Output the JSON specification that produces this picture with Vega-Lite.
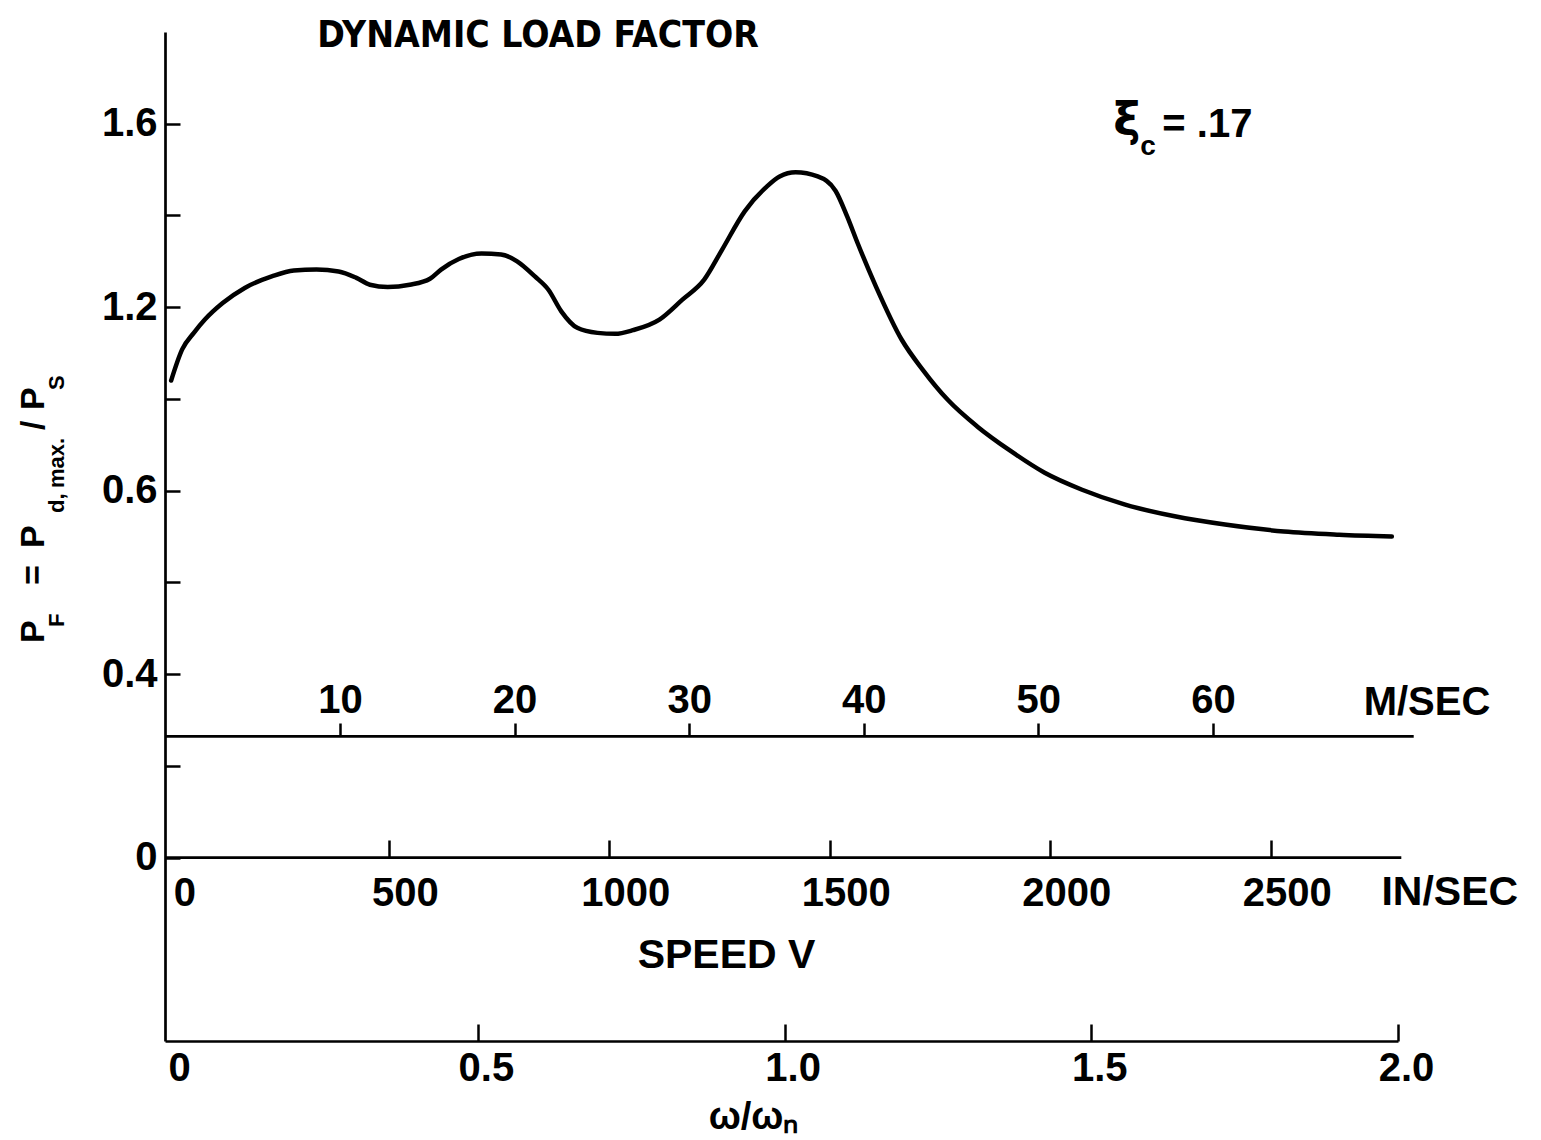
{
  "$schema": "https://vega.github.io/schema/vega-lite/v6.json",
  "width": 1233,
  "height": 1009,
  "autosize": {"type": "none"},
  "padding": {"left": 165, "top": 32, "right": 143, "bottom": 99},
  "background": "white",
  "config": {"view": {"stroke": null}},
  "layer": [
    {
      "data": {"values": [
        {"w": 0, "pf": 1.04},
        {"w": 0.018, "pf": 1.108},
        {"w": 0.037, "pf": 1.144},
        {"w": 0.055, "pf": 1.173},
        {"w": 0.084, "pf": 1.209},
        {"w": 0.12, "pf": 1.242},
        {"w": 0.164, "pf": 1.267},
        {"w": 0.2, "pf": 1.28},
        {"w": 0.237, "pf": 1.282},
        {"w": 0.273, "pf": 1.278},
        {"w": 0.302, "pf": 1.264},
        {"w": 0.324, "pf": 1.249},
        {"w": 0.353, "pf": 1.244},
        {"w": 0.389, "pf": 1.249},
        {"w": 0.422, "pf": 1.262},
        {"w": 0.44, "pf": 1.282},
        {"w": 0.469, "pf": 1.305},
        {"w": 0.506, "pf": 1.317},
        {"w": 0.538, "pf": 1.315},
        {"w": 0.564, "pf": 1.3},
        {"w": 0.593, "pf": 1.267},
        {"w": 0.615, "pf": 1.238},
        {"w": 0.636, "pf": 1.191},
        {"w": 0.662, "pf": 1.155},
        {"w": 0.695, "pf": 1.144},
        {"w": 0.724, "pf": 1.142},
        {"w": 0.753, "pf": 1.15},
        {"w": 0.796, "pf": 1.173},
        {"w": 0.833, "pf": 1.216},
        {"w": 0.869, "pf": 1.26},
        {"w": 0.898, "pf": 1.325},
        {"w": 0.935, "pf": 1.409},
        {"w": 0.971, "pf": 1.463},
        {"w": 0.992, "pf": 1.485},
        {"w": 1.018, "pf": 1.494},
        {"w": 1.054, "pf": 1.485},
        {"w": 1.083, "pf": 1.454},
        {"w": 1.102, "pf": 1.398},
        {"w": 1.119, "pf": 1.34},
        {"w": 1.149, "pf": 1.245},
        {"w": 1.191, "pf": 1.129},
        {"w": 1.225, "pf": 1.064},
        {"w": 1.266, "pf": 0.998},
        {"w": 1.314, "pf": 0.94},
        {"w": 1.369, "pf": 0.886},
        {"w": 1.424, "pf": 0.839},
        {"w": 1.485, "pf": 0.802},
        {"w": 1.554, "pf": 0.77},
        {"w": 1.636, "pf": 0.744},
        {"w": 1.718, "pf": 0.726},
        {"w": 1.814, "pf": 0.711},
        {"w": 1.904, "pf": 0.704},
        {"w": 1.99, "pf": 0.7}
      ]},
      "mark": {"type": "line", "color": "black", "strokeWidth": 4.5, "interpolate": "monotone", "strokeCap": "round"},
      "encoding": {
        "x": {
          "field": "w", "type": "quantitative",
          "scale": {"domain": [-0.01, 2]},
          "axis": {
            "orient": "bottom",
            "values": [0, 0.5, 1, 1.5, 2],
            "labelExpr": "datum.value == 0 ? '0' : format(datum.value, '.1f')",
            "grid": false,
            "domainColor": "black", "domainWidth": 2.7,
            "tickColor": "black", "tickWidth": 2.5, "tickSize": -17,
            "tickOpacity": {"condition": {"test": "datum.value == 0", "value": 0}, "value": 1},
            "labelFont": "Liberation Sans", "labelFontSize": 40, "labelFontWeight": "bold", "labelColor": "black",
            "labelBaseline": "top", "labelPadding": 24, "labelOffset": 8,
            "labelFlush": false, "labelOverlap": false, "labelBound": false,
            "title": "ω/ωₙ",
            "titleFont": "Liberation Sans", "titleFontSize": 38, "titleFontWeight": "bold", "titleColor": "black",
            "titleX": 588, "titleY": 87, "titleBaseline": "alphabetic", "titleAlign": "center"
          }
        },
        "y": {
          "field": "pf", "type": "quantitative",
          "scale": {"domain": [-0.4, 1.8]},
          "axis": {
            "orient": "left",
            "values": [0, 0.2, 0.4, 0.6, 0.8, 1, 1.2, 1.4, 1.6],
            "labelExpr": "datum.value == 0 ? '0' : datum.value == 0.4 ? '0.4' : datum.value == 0.8 ? '0.6' : datum.value == 1.2 ? '1.2' : datum.value == 1.6 ? '1.6' : ''",
            "grid": false,
            "domainColor": "black", "domainWidth": 2.7,
            "tickColor": "black", "tickWidth": 2.5, "tickSize": -15,
            "labelFont": "Liberation Sans", "labelFontSize": 40, "labelFontWeight": "bold", "labelColor": "black",
            "labelPadding": 23,
            "labelFlush": false, "labelOverlap": false, "labelBound": false,
            "title": null
          }
        }
      }
    },
    {
      "data": {"values": [{"t": "DYNAMIC  LOAD FACTOR"}]},
      "mark": {"type": "text", "font": "DejaVu Sans Condensed", "fontWeight": "bold", "fontSize": 37, "align": "left", "baseline": "alphabetic", "color": "black"},
      "encoding": {
        "x": {"datum": 0.238, "scale": {"domain": [-0.01, 2]}, "axis": null},
        "y": {"datum": 1.767, "scale": {"domain": [-0.4, 1.8]}, "axis": null},
        "text": {"field": "t"}
      }
    },
    {
      "data": {"values": [{"t": "ξ"}]},
      "mark": {"type": "text", "font": "DejaVu Sans", "fontWeight": "bold", "fontSize": 46, "align": "left", "baseline": "alphabetic", "color": "black"},
      "encoding": {
        "x": {"datum": 1.536, "scale": {"domain": [-0.01, 2]}, "axis": null},
        "y": {"datum": 1.575, "scale": {"domain": [-0.4, 1.8]}, "axis": null},
        "text": {"field": "t"}
      }
    },
    {
      "data": {"values": [{"t": "c"}]},
      "mark": {"type": "text", "font": "Liberation Sans", "fontWeight": "bold", "fontSize": 28, "align": "left", "baseline": "alphabetic", "color": "black", "dx": 27, "dy": 20},
      "encoding": {
        "x": {"datum": 1.536, "scale": {"domain": [-0.01, 2]}, "axis": null},
        "y": {"datum": 1.575, "scale": {"domain": [-0.4, 1.8]}, "axis": null},
        "text": {"field": "t"}
      }
    },
    {
      "data": {"values": [{"t": "= .17"}]},
      "mark": {"type": "text", "font": "Liberation Sans", "fontWeight": "bold", "fontSize": 40, "align": "left", "baseline": "alphabetic", "color": "black", "dx": 49, "dy": 2},
      "encoding": {
        "x": {"datum": 1.536, "scale": {"domain": [-0.01, 2]}, "axis": null},
        "y": {"datum": 1.575, "scale": {"domain": [-0.4, 1.8]}, "axis": null},
        "text": {"field": "t"}
      }
    },
    {
      "data": {"values": [{"t": "P"}]},
      "mark": {"type": "text", "font": "Liberation Sans", "fontWeight": "bold", "fontSize": 34, "angle": 270, "align": "left", "baseline": "alphabetic", "color": "black", "dx": 0, "dy": 0},
      "encoding": {
        "x": {"datum": -0.2072, "scale": {"domain": [-0.01, 2]}, "axis": null},
        "y": {"datum": 0.4677, "scale": {"domain": [-0.4, 1.8]}, "axis": null},
        "text": {"field": "t"}
      }
    },
    {
      "data": {"values": [{"t": "F"}]},
      "mark": {"type": "text", "font": "Liberation Sans", "fontWeight": "bold", "fontSize": 22, "angle": 270, "align": "left", "baseline": "alphabetic", "color": "black", "dx": 16, "dy": 20},
      "encoding": {
        "x": {"datum": -0.2072, "scale": {"domain": [-0.01, 2]}, "axis": null},
        "y": {"datum": 0.4677, "scale": {"domain": [-0.4, 1.8]}, "axis": null},
        "text": {"field": "t"}
      }
    },
    {
      "data": {"values": [{"t": "="}]},
      "mark": {"type": "text", "font": "Liberation Sans", "fontWeight": "bold", "fontSize": 34, "angle": 270, "align": "left", "baseline": "alphabetic", "color": "black", "dx": 58, "dy": 0},
      "encoding": {
        "x": {"datum": -0.2072, "scale": {"domain": [-0.01, 2]}, "axis": null},
        "y": {"datum": 0.4677, "scale": {"domain": [-0.4, 1.8]}, "axis": null},
        "text": {"field": "t"}
      }
    },
    {
      "data": {"values": [{"t": "P"}]},
      "mark": {"type": "text", "font": "Liberation Sans", "fontWeight": "bold", "fontSize": 34, "angle": 270, "align": "left", "baseline": "alphabetic", "color": "black", "dx": 95, "dy": 0},
      "encoding": {
        "x": {"datum": -0.2072, "scale": {"domain": [-0.01, 2]}, "axis": null},
        "y": {"datum": 0.4677, "scale": {"domain": [-0.4, 1.8]}, "axis": null},
        "text": {"field": "t"}
      }
    },
    {
      "data": {"values": [{"t": "d,"}]},
      "mark": {"type": "text", "font": "Liberation Sans", "fontWeight": "bold", "fontSize": 22, "angle": 270, "align": "left", "baseline": "alphabetic", "color": "black", "dx": 130, "dy": 20},
      "encoding": {
        "x": {"datum": -0.2072, "scale": {"domain": [-0.01, 2]}, "axis": null},
        "y": {"datum": 0.4677, "scale": {"domain": [-0.4, 1.8]}, "axis": null},
        "text": {"field": "t"}
      }
    },
    {
      "data": {"values": [{"t": "max."}]},
      "mark": {"type": "text", "font": "Liberation Sans", "fontWeight": "bold", "fontSize": 22, "angle": 270, "align": "left", "baseline": "alphabetic", "color": "black", "dx": 155, "dy": 20},
      "encoding": {
        "x": {"datum": -0.2072, "scale": {"domain": [-0.01, 2]}, "axis": null},
        "y": {"datum": 0.4677, "scale": {"domain": [-0.4, 1.8]}, "axis": null},
        "text": {"field": "t"}
      }
    },
    {
      "data": {"values": [{"t": "/"}]},
      "mark": {"type": "text", "font": "Liberation Sans", "fontWeight": "bold", "fontSize": 34, "angle": 270, "align": "left", "baseline": "alphabetic", "color": "black", "dx": 213, "dy": 0},
      "encoding": {
        "x": {"datum": -0.2072, "scale": {"domain": [-0.01, 2]}, "axis": null},
        "y": {"datum": 0.4677, "scale": {"domain": [-0.4, 1.8]}, "axis": null},
        "text": {"field": "t"}
      }
    },
    {
      "data": {"values": [{"t": "P"}]},
      "mark": {"type": "text", "font": "Liberation Sans", "fontWeight": "bold", "fontSize": 34, "angle": 270, "align": "left", "baseline": "alphabetic", "color": "black", "dx": 233, "dy": 0},
      "encoding": {
        "x": {"datum": -0.2072, "scale": {"domain": [-0.01, 2]}, "axis": null},
        "y": {"datum": 0.4677, "scale": {"domain": [-0.4, 1.8]}, "axis": null},
        "text": {"field": "t"}
      }
    },
    {
      "data": {"values": [{"t": "S"}]},
      "mark": {"type": "text", "font": "Liberation Sans", "fontWeight": "bold", "fontSize": 22, "angle": 270, "align": "left", "baseline": "alphabetic", "color": "black", "dx": 253, "dy": 20},
      "encoding": {
        "x": {"datum": -0.2072, "scale": {"domain": [-0.01, 2]}, "axis": null},
        "y": {"datum": 0.4677, "scale": {"domain": [-0.4, 1.8]}, "axis": null},
        "text": {"field": "t"}
      }
    },
    {
      "data": {"values": [{"unit": "M/SEC"}]},
      "mark": {"type": "rule", "color": "black", "strokeWidth": 2.7},
      "encoding": {
        "x": {
          "datum": 0,
          "scale": {"domain": [-0.02, 70.6]},
          "axis": {
            "orient": "top", "offset": -704,
            "values": [10, 20, 30, 40, 50, 60],
            "format": "d",
            "domain": false, "grid": false,
            "tickColor": "black", "tickWidth": 2.5, "tickSize": 13,
            "labelFont": "Liberation Sans", "labelFontSize": 40, "labelFontWeight": "bold", "labelColor": "black",
            "labelPadding": 3,
            "labelFlush": false, "labelOverlap": false, "labelBound": false,
            "title": null
          }
        },
        "x2": {"datum": 71.5},
        "y": {"datum": 0.264, "scale": {"domain": [-0.4, 1.8]}, "axis": null}
      }
    },
    {
      "data": {"values": [{"unit": "M/SEC"}]},
      "mark": {"type": "text", "font": "Liberation Sans", "fontWeight": "bold", "fontSize": 40, "align": "center", "baseline": "alphabetic", "color": "black", "dy": -21},
      "encoding": {
        "x": {"datum": 72.26, "scale": {"domain": [-0.02, 70.6]}, "axis": null},
        "y": {"datum": 0.264, "scale": {"domain": [-0.4, 1.8]}, "axis": null},
        "text": {"field": "unit"}
      }
    },
    {
      "data": {"values": [{"unit": "IN/SEC"}]},
      "mark": {"type": "rule", "color": "black", "strokeWidth": 2.7},
      "encoding": {
        "x": {
          "datum": -7.5,
          "scale": {"domain": [-7.5, 2788.5]},
          "axis": {
            "orient": "bottom", "offset": -183,
            "values": [0, 500, 1000, 1500, 2000, 2500],
            "format": "d",
            "domain": false, "grid": false,
            "tickColor": "black", "tickWidth": 2.5, "tickSize": -18,
            "tickOpacity": {"condition": {"test": "datum.value == 0", "value": 0}, "value": 1},
            "labelFont": "Liberation Sans", "labelFontSize": 40, "labelFontWeight": "bold", "labelColor": "black",
            "labelBaseline": "top", "labelPadding": 33, "labelOffset": 16,
            "labelFlush": false, "labelOverlap": false, "labelBound": false,
            "title": "SPEED V",
            "titleFont": "Liberation Sans", "titleFontSize": 41, "titleFontWeight": "bold", "titleColor": "black",
            "titleX": 561, "titleY": 109, "titleBaseline": "alphabetic", "titleAlign": "center"
          }
        },
        "x2": {"datum": 2796},
        "y": {"datum": 0, "scale": {"domain": [-0.4, 1.8]}, "axis": null}
      }
    },
    {
      "data": {"values": [{"unit": "IN/SEC"}]},
      "mark": {"type": "text", "font": "Liberation Sans", "fontWeight": "bold", "fontSize": 41, "align": "center", "baseline": "alphabetic", "color": "black", "dy": 47},
      "encoding": {
        "x": {"datum": 2906, "scale": {"domain": [-7.5, 2788.5]}, "axis": null},
        "y": {"datum": 0, "scale": {"domain": [-0.4, 1.8]}, "axis": null},
        "text": {"field": "unit"}
      }
    }
  ],
  "resolve": {"scale": {"x": "independent"}, "axis": {"y": "independent"}}
}
